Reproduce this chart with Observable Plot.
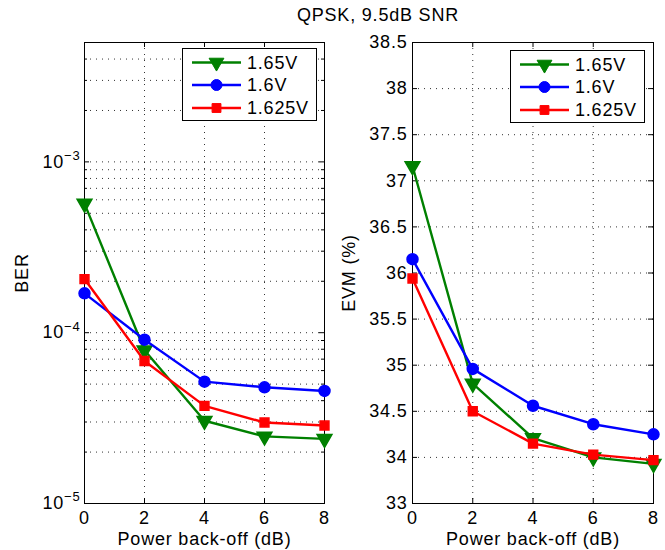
<!DOCTYPE html>
<html>
<head>
<meta charset="utf-8">
<script src="https://cdn.jsdelivr.net/npm/d3@7"></script>
<script src="https://cdn.jsdelivr.net/npm/@observablehq/plot@0.6"></script>
<style>
  html, body { margin: 0; padding: 0; background: white; }
  #wrap { position: relative; width: 665px; height: 550px; overflow: hidden; font-family: "Liberation Sans", Arial, sans-serif; }
  #wrap > * { position: absolute; }
  #title { font-size: 18px; letter-spacing: 0.8px; color: black; white-space: nowrap; }
</style>
</head>
<body>
<div id="wrap"></div>
<script>
// ---------- data ----------
const chartTitle = "QPSK, 9.5dB SNR";
const xLabel = "Power back-off (dB)";
const berLabel = "BER";
const evmLabel = "EVM (%)";

const backoff = [0, 2, 4, 6, 8];
const seriesNames = ["1.65V", "1.6V", "1.625V"];
const seriesColors = ["#008000", "#0000ff", "#ff0000"];
const seriesSymbols = ["triangle", "circle", "square"];

const ber165 = [5.7e-4, 7.9e-5, 3.05e-5, 2.47e-5, 2.39e-5];
const ber160 = [1.7e-4, 9.1e-5, 5.17e-5, 4.79e-5, 4.56e-5];
const ber1625 = [2.06e-4, 6.83e-5, 3.73e-5, 2.98e-5, 2.86e-5];

const evm165 = [37.16, 34.80, 34.21, 34.00, 33.93];
const evm160 = [36.15, 34.96, 34.56, 34.36, 34.25];
const evm1625 = [35.94, 34.50, 34.15, 34.03, 33.97];

const xTicks = [0, 2, 4, 6, 8];
const xGrid = [2, 4, 6];
const berDomain = [1e-5, 5e-3];
const berMajorTicks = [1e-5, 1e-4, 1e-3];
const berMinorTicks = [2e-5, 3e-5, 4e-5, 5e-5, 6e-5, 7e-5, 8e-5, 9e-5,
                       2e-4, 3e-4, 4e-4, 5e-4, 6e-4, 7e-4, 8e-4, 9e-4,
                       2e-3, 3e-3, 4e-3];
const berGrid = [2e-5, 3e-5, 4e-5, 5e-5, 6e-5, 7e-5, 8e-5, 9e-5, 1e-4,
                 2e-4, 3e-4, 4e-4, 5e-4, 6e-4, 7e-4, 8e-4, 9e-4, 1e-3,
                 2e-3, 3e-3, 4e-3];
const evmDomain = [33.5, 38.5];
const evmTickValues = [33.5, 34, 34.5, 35, 35.5, 36, 36.5, 37, 37.5, 38, 38.5];
const evmTickLabels = ["33", "34", "34.5", "35", "35.5", "36", "36.5", "37", "37.5", "38", "38.5"];
const evmGrid = [34, 34.5, 35, 35.5, 36, 36.5, 37, 37.5, 38];

// ---------- build table ----------
const berSeries = [ber165, ber160, ber1625];
const evmSeries = [evm165, evm160, evm1625];
const rows = [];
seriesNames.forEach((name, s) => {
  backoff.forEach((x, i) => rows.push({series: name, s, x, ber: berSeries[s][i], evm: evmSeries[s][i]}));
});

const font = {fontFamily: '"Liberation Sans", Arial, sans-serif', fontSize: "18px", letterSpacing: "0.8px", background: "transparent", overflow: "visible", color: "black"};
const gridStyle = {stroke: "#333", strokeWidth: 1, strokeDasharray: "1,5"};
const lineW = 2.4;

function seriesMarks(yField) {
  const marks = [];
  seriesNames.forEach((name, s) => {
    const d = rows.filter(r => r.s === s);
    marks.push(Plot.line(d, {x: "x", y: yField, stroke: seriesColors[s], strokeWidth: lineW}));
    marks.push(Plot.dot(d, {
      x: "x", y: yField, symbol: seriesSymbols[s], fill: seriesColors[s], stroke: seriesColors[s],
      r: s === 2 ? 5 : 5.5, rotate: s === 0 ? 180 : 0
    }));
  });
  return marks;
}

function tickMarks(innerW, innerH, yMajor, yMinor) {
  const m = [
    Plot.ruleY(yMajor, {stroke: "black", insetRight: innerW - 5}),
    Plot.ruleY(yMajor, {stroke: "black", insetLeft: innerW - 5}),
    Plot.ruleX(xTicks, {stroke: "black", insetTop: innerH - 5}),
    Plot.ruleX(xTicks, {stroke: "black", insetBottom: innerH - 5})
  ];
  if (yMinor) {
    m.push(Plot.ruleY(yMinor, {stroke: "black", insetRight: innerW - 3}));
    m.push(Plot.ruleY(yMinor, {stroke: "black", insetLeft: innerW - 3}));
  }
  return m;
}

const H = 550, MT = 42, MB = 47;
const innerH = H - MT - MB;

// ---------- left: BER ----------
const LW = 335, LML = 84, LMR = 11;
const left = Plot.plot({
  width: LW, height: H, marginLeft: LML, marginRight: LMR, marginTop: MT, marginBottom: MB,
  style: font,
  x: {domain: [0, 8]},
  y: {type: "log", domain: berDomain},
  marks: [
    Plot.ruleY(berGrid, gridStyle),
    Plot.ruleX(xGrid, gridStyle),
    ...tickMarks(LW - LML - LMR, innerH, berMajorTicks, berMinorTicks),
    Plot.frame({stroke: "black", strokeWidth: 1}),
    Plot.axisX({ticks: xTicks, tickSize: 0, tickPadding: 8, tickFormat: d => String(d),
      label: xLabel, labelAnchor: "center", labelOffset: 41, labelArrow: "none"}),
    Plot.axisY({ticks: berMajorTicks, tickSize: 0, tickPadding: 4,
      tickFormat: d => "10^" + Math.round(Math.log10(d)),
      label: berLabel, labelAnchor: "center", labelOffset: 69, labelArrow: "none"}),
    ...seriesMarks("ber")
  ]
});
left.style.left = "0px"; left.style.top = "0px";

// superscript exponents
d3.select(left).selectAll('g[aria-label="y-axis tick label"] text').each(function() {
  const t = d3.select(this);
  const txt = t.text();
  if (txt.indexOf("^") < 0) return;
  const [base, exp] = txt.split("^");
  t.text(base);
  t.append("tspan").attr("dy", "-0.6em").attr("font-size", "13px").text(exp.replace("-", "\u2212"));
});

// ---------- right: EVM ----------
const RW = 330, RML = 77, RMR = 12;
const right = Plot.plot({
  width: RW, height: H, marginLeft: RML, marginRight: RMR, marginTop: MT, marginBottom: MB,
  style: font,
  x: {domain: [0, 8]},
  y: {domain: evmDomain},
  marks: [
    Plot.ruleY(evmGrid, gridStyle),
    Plot.ruleX(xGrid, gridStyle),
    ...tickMarks(RW - RML - RMR, innerH, evmTickValues, null),
    Plot.frame({stroke: "black", strokeWidth: 1}),
    Plot.axisX({ticks: xTicks, tickSize: 0, tickPadding: 8, tickFormat: d => String(d),
      label: xLabel, labelAnchor: "center", labelOffset: 41, labelArrow: "none"}),
    Plot.axisY({ticks: evmTickValues, tickSize: 0, tickPadding: 5,
      tickFormat: d => evmTickLabels[evmTickValues.indexOf(d)],
      label: evmLabel, labelAnchor: "center", labelOffset: 70, labelArrow: "none"}),
    ...seriesMarks("evm")
  ]
});
right.style.left = LW + "px"; right.style.top = "0px";

const wrap = document.getElementById("wrap");
wrap.appendChild(left);
wrap.appendChild(right);

// ---------- title ----------
const title = document.createElement("div");
title.id = "title";
title.textContent = chartTitle;
wrap.appendChild(title);
const tw = title.getBoundingClientRect().width;
title.style.left = (378 - tw / 2) + "px";
title.style.top = "5px";

// ---------- legends ----------
function legend(x, y) {
  const w = 135, h = 73;
  const svg = d3.create("svg").attr("width", w).attr("height", h)
    .style("left", x + "px").style("top", y + "px").style("background", "white")
    .style("font-family", '"Liberation Sans", Arial, sans-serif').style("font-size", "18px").style("letter-spacing", "0.8px");
  svg.append("rect").attr("x", 0.5).attr("y", 0.5).attr("width", w - 1).attr("height", h - 1)
    .attr("fill", "white").attr("stroke", "black");
  const rowY = [14.5, 37, 60];
  const symType = {triangle: d3.symbolTriangle, circle: d3.symbolCircle, square: d3.symbolSquare};
  seriesNames.forEach((name, s) => {
    const g = svg.append("g").attr("transform", `translate(0,${rowY[s]})`);
    g.append("line").attr("x1", 10).attr("x2", 59).attr("stroke", seriesColors[s]).attr("stroke-width", lineW);
    const r = s === 2 ? 5 : 5.5;
    g.append("path").attr("d", d3.symbol(symType[seriesSymbols[s]], Math.PI * r * r)())
      .attr("transform", `translate(34.5,0) rotate(${s === 0 ? 180 : 0})`)
      .attr("fill", seriesColors[s]).attr("stroke", seriesColors[s]);
    g.append("text").attr("x", 65).attr("y", 0).attr("dy", "0.36em").attr("fill", "black").text(name);
  });
  return svg.node();
}
wrap.appendChild(legend(182, 48));
wrap.appendChild(legend(510, 50));
</script>
</body>
</html>
